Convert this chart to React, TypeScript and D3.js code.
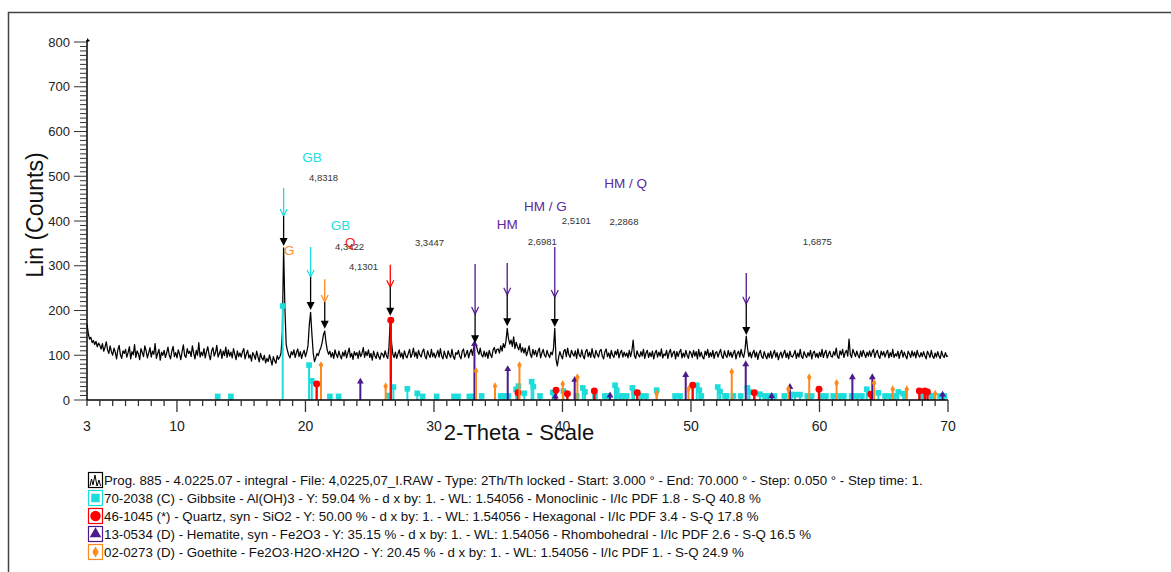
import React from 'react';
import * as d3 from 'd3';

const W = 1171;
const H = 572;

// scan: Start 3.000°, step 0.1°
const scanStart = 3;
const scanStep = 0.1;
const counts = [
  170, 148, 136, 140, 128, 133, 124, 131, 119, 127,
  122, 114, 126, 109, 118, 130, 112, 104, 121, 108,
  100, 116, 107, 92, 112, 122, 101, 93, 110, 104,
  113, 96, 106, 119, 92, 108, 101, 124, 95, 110,
  103, 90, 115, 106, 97, 121, 110, 94, 105, 117,
  96, 109, 102, 126, 93, 104, 113, 89, 107, 100,
  111, 95, 105, 118, 100, 92, 109, 120, 97, 106,
  94, 112, 103, 90, 108, 123, 99, 95, 115, 104,
  109, 97, 121, 105, 92, 111, 100, 128, 96, 107,
  99, 115, 94, 108, 119, 101, 90, 110, 117, 98,
  106, 122, 96, 104, 113, 93, 109, 99, 118, 95,
  112, 98, 107, 94, 115, 102, 90, 110, 97, 105,
  96, 108, 115, 92, 103, 111, 94, 101, 87, 106,
  100, 91, 109, 97, 85, 104, 94, 89, 100, 83,
  93, 86, 101, 90, 78, 97, 88, 82, 99, 91,
  96, 105, 150, 340, 205, 124, 110, 100, 94, 108,
  101, 112, 95, 106, 114, 97, 108, 93, 104, 111,
  97, 107, 122, 168, 196, 148, 106, 86, 94, 104,
  99, 110, 117, 129, 146, 154, 128, 111, 102, 109,
  96, 106, 93, 112, 101, 95, 109, 99, 92, 107,
  98, 111, 94, 105, 116, 96, 104, 91, 108, 100,
  106, 93, 110, 97, 104, 117, 95, 108, 99, 112,
  95, 104, 89, 109, 99, 93, 107, 97, 91, 105,
  103, 95, 110, 99, 93, 118, 182, 128, 102, 95,
  107, 93, 103, 112, 96, 105, 92, 110, 99, 94,
  104, 113, 95, 102, 116, 97, 107, 93, 111, 101,
  96, 108, 114, 98, 92, 110, 101, 95, 113, 97,
  105, 94, 102, 111, 96, 115, 98, 92, 109, 99,
  93, 110, 101, 95, 113, 97, 91, 106, 102, 111,
  98, 92, 109, 114, 96, 103, 111, 94, 106, 113,
  100, 118, 128, 122, 109, 102, 116, 101, 96, 109,
  97, 107, 93, 111, 101, 95, 112, 117, 104, 113,
  114, 105, 121, 109, 126, 117, 131, 160, 137, 125,
  134, 120, 141, 115, 129, 119, 112, 126, 107, 117,
  105, 116, 99, 109, 121, 102, 95, 113, 101, 111,
  97, 109, 116, 94, 105, 113, 100, 96, 111, 101,
  95, 107, 101, 115, 160, 90, 76, 96, 108, 99,
  92, 109, 113, 97, 116, 101, 95, 111, 103, 98,
  110, 93, 114, 101, 96, 112, 99, 92, 108, 113,
  97, 107, 95, 115, 100, 94, 111, 102, 96, 109,
  113, 98, 92, 108, 114, 97, 105, 93, 111, 100,
  95, 109, 101, 113, 94, 106, 111, 96, 107, 98,
  105, 94, 111, 97, 109, 134, 99, 93, 110, 101,
  96, 108, 98, 113, 93, 105, 111, 95, 106, 97,
  109, 92, 105, 111, 96, 107, 98, 114, 94, 103,
  99, 111, 93, 106, 113, 96, 105, 109, 92, 108,
  97, 107, 113, 94, 105, 96, 111, 100, 93, 109,
  105, 95, 111, 98, 108, 92, 113, 97, 107, 96,
  92, 109, 100, 113, 95, 106, 97, 111, 93, 105,
  108, 96, 105, 113, 98, 93, 110, 100, 95, 111,
  98, 107, 95, 105, 111, 92, 104, 109, 96, 113,
  101, 95, 111, 143, 116, 97, 107, 94, 105, 111,
  96, 107, 91, 104, 111, 97, 93, 108, 99, 92,
  105, 95, 109, 93, 103, 111, 96, 106, 90, 101,
  107, 94, 104, 111, 95, 105, 92, 109, 98, 96,
  102, 111, 93, 105, 96, 113, 97, 93, 108, 100,
  95, 106, 98, 111, 92, 105, 109, 96, 104, 94,
  107, 97, 113, 95, 105, 111, 94, 102, 109, 98,
  96, 108, 100, 116, 97, 93, 110, 101, 113, 95,
  106, 111, 98, 136, 101, 95, 113, 105, 97, 109,
  100, 94, 109, 97, 111, 103, 95, 107, 98, 110,
  97, 107, 113, 95, 105, 111, 98, 93, 109, 100,
  108, 96, 105, 111, 94, 106, 97, 113, 95, 103,
  98, 109, 93, 105, 111, 96, 107, 99, 92, 109,
  103, 95, 110, 98, 107, 94, 111, 100, 96, 106,
  97, 108, 99, 92, 109, 103, 95, 111, 98, 93,
  105, 96, 108, 98, 93, 109, 99, 95, 106, 97,
  99,
];

// stick patterns [2theta, counts]
const gibbsite = [
  [13.17, 8], [14.2, 8], [18.23, 210], [20.28, 78], [20.49, 43], [21.9, 8], [22.58, 8],
  [26.45, 10], [26.84, 29], [27.93, 25], [28.7, 15], [29.12, 8], [30.21, 8], [31.56, 8],
  [31.87, 8], [32.75, 8], [33.06, 8], [33.71, 9], [35.19, 9], [35.45, 9], [35.79, 9],
  [36.39, 24], [36.57, 31], [37.03, 15], [37.6, 41], [37.73, 30], [38.25, 9], [39.24, 17],
  [40.07, 20], [41.1, 9], [41.58, 27], [41.75, 18], [42.53, 9], [43.3, 9], [43.57, 9],
  [44.09, 33], [44.22, 22], [44.48, 9], [44.74, 9], [45.0, 9], [45.44, 27], [45.57, 18],
  [46.16, 9], [46.5, 9], [47.33, 22], [48.76, 9], [49.15, 9], [50.45, 33], [50.65, 22],
  [50.8, 9], [52.08, 29], [52.26, 19], [52.65, 9], [52.78, 9], [53.3, 9], [53.87, 9],
  [54.39, 27], [54.55, 18], [55.37, 13], [55.76, 9], [56.02, 9], [56.5, 9], [57.26, 9],
  [57.83, 12], [58.09, 12], [58.48, 12], [59.05, 9], [59.39, 9], [60.17, 9], [60.5, 9],
  [61.07, 9], [61.6, 9], [61.9, 9], [62.5, 9], [62.9, 9], [63.3, 9], [63.68, 24],
  [64.58, 16], [65.1, 9], [65.49, 9], [65.88, 9], [66.13, 18], [66.52, 14], [66.66, 14],
  [68.0, 9], [68.7, 9], [68.86, 9], [69.38, 9], [69.7, 9],
];
const quartz = [
  [20.87, 36], [26.64, 178], [36.54, 16], [39.5, 22], [40.38, 14], [42.48, 20], [45.82, 16],
  [50.13, 33], [54.93, 16], [59.96, 24], [63.99, 13], [67.77, 20], [68.2, 20], [68.4, 18],
];
const hematite = [
  [24.27, 41], [33.15, 125], [35.74, 69], [39.44, 8], [40.95, 45], [43.7, 10], [49.59, 56],
  [54.26, 80], [56.28, 9], [57.7, 29], [62.56, 51], [64.11, 51], [69.58, 12],
];
const goethite = [
  [21.21, 78], [26.24, 31], [33.27, 65], [34.75, 31], [36.65, 78], [40.02, 36], [41.16, 51],
  [47.33, 14], [49.8, 24], [53.17, 63], [57.58, 24], [59.2, 51], [61.33, 38], [64.25, 38],
  [65.7, 24], [66.79, 24], [69.0, 14],
];

// peak markers: position, phase colour key, arrow top / colour end / black tip (counts)
const peakTheta = [18.3, 20.4, 21.5, 26.6, 33.2, 35.7, 39.4, 54.3];
const peakPhase = ['GB', 'GB', 'G', 'Q', 'HM', 'HM', 'HM', 'HM'];
const peakTop = [474, 342, 270, 302, 304, 306, 342, 284];
const peakMid = [411, 275, 219, 252, 192, 235, 230, 215];
const peakTip = [344, 201, 159, 188, 127, 165, 163, 145];

const dLabels = ['4,8318', '4,3422', '4,1301', '3,3447', '2,6981', '2,5101', '2,2868', '1,6875'];
const dLabelTheta = [20.28, 22.3, 23.39, 28.52, 37.3, 39.94, 43.65, 58.7];
const dLabelCounts = [498, 342, 299, 353, 354, 402, 398, 355];

const phaseLabels = ['GB', 'GB', 'Q', 'G', 'HM', 'HM / G', 'HM / Q'];
const phaseLabelKey = ['GB', 'GB', 'Q', 'G', 'HM', 'HM', 'HM'];
const phaseLabelTheta = [19.75, 21.96, 23.08, 18.33, 34.88, 37.0, 43.25];
const phaseLabelCounts = [543, 391, 353, 335, 393, 434, 485];

const xTickLabels = [3, 10, 20, 30, 40, 50, 60, 70];
const yTickLabels = [0, 100, 200, 300, 400, 500, 600, 700, 800];

const legendLines = [
  'Prog. 885 - 4.0225.07 - integral - File: 4,0225,07_I.RAW - Type: 2Th/Th locked - Start: 3.000 ° - End: 70.000 ° - Step: 0.050 ° - Step time: 1.',
  '70-2038 (C) - Gibbsite - Al(OH)3 - Y: 59.04 % - d x by: 1. - WL: 1.54056 - Monoclinic - I/Ic PDF 1.8 - S-Q 40.8 %',
  '46-1045 (*) - Quartz, syn - SiO2 - Y: 50.00 % - d x by: 1. - WL: 1.54056 - Hexagonal - I/Ic PDF 3.4 - S-Q 17.8 %',
  '13-0534 (D) - Hematite, syn - Fe2O3 - Y: 35.15 % - d x by: 1. - WL: 1.54056 - Rhombohedral - I/Ic PDF 2.6 - S-Q 16.5 %',
  '02-0273 (D) - Goethite - Fe2O3·H2O·xH2O - Y: 20.45 % - d x by: 1. - WL: 1.54056 - I/Ic PDF 1. - S-Q 24.9 %',
];

const colors: Record<string, string> = {
  GB: '#1ddcdc',
  Q: '#ff0000',
  HM: '#4d1a8c',
  G: '#ff8a1c',
};
const labelColors: Record<string, string> = {
  GB: '#22dede',
  Q: '#ff1a1a',
  HM: '#5b2a9a',
  G: '#ff8c22',
};

const FONT = "'Liberation Sans', Arial, Helvetica, sans-serif";

const App: React.FC = () => {
  const x = d3.scaleLinear().domain([3, 70]).range([87, 948]);
  const y = d3.scaleLinear().domain([0, 800]).range([400, 42]);

  const scan = counts.map((c, i) => [scanStart + i * scanStep, c] as [number, number]);
  const line = d3.line<[number, number]>().x(d => x(d[0])).y(d => y(d[1]));

  const sym = (type: d3.SymbolType, size: number) => d3.symbol().type(type).size(size)() || '';

  const phases = [
    { key: 'GB', data: gibbsite, marker: sym(d3.symbolSquare, 32) },
    { key: 'Q', data: quartz, marker: sym(d3.symbolCircle, 38) },
    { key: 'HM', data: hematite, marker: sym(d3.symbolTriangle, 20) },
    { key: 'G', data: goethite, marker: sym(d3.symbolDiamond, 18) },
  ];

  const minorX = d3.range(3, 71);
  const minorY = d3.range(0, 801, 10);

  const legendY = [480, 498, 516, 534, 552];

  return (
    <svg width={W} height={H} style={{ position: 'absolute', left: 0, top: 0, background: '#fff' }} fontFamily={FONT}>
      {/* frame */}
      <path d={`M8.5,${H} L8.5,12.5 L${W},12.5`} fill="none" stroke="#444" strokeWidth={1.5} />

      {/* scan */}
      <path d={line(scan) || ''} fill="none" stroke="#000" strokeWidth={1.25} strokeLinejoin="round" />

      {/* stick patterns */}
      {phases.map(p => (
        <g key={p.key}>
          {p.data.map(([t, c], i) => (
            <g key={i}>
              <line x1={x(t)} x2={x(t)} y1={y(0)} y2={y(c)} stroke={colors[p.key]} strokeWidth={p.key === 'Q' ? 2.4 : 2} />
              <path d={p.marker} transform={`translate(${x(t)},${y(c)})`} fill={colors[p.key]} />
            </g>
          ))}
        </g>
      ))}

      {/* x axis */}
      <line x1={x(3)} x2={x(70)} y1={y(0)} y2={y(0)} stroke="#000" strokeWidth={1.5} />
      {minorX.map(t => {
        const major = t % 10 === 0;
        return <line key={t} x1={x(t)} x2={x(t)} y1={y(0)} y2={y(0) + (major ? 12 : 6)} stroke="#333" strokeWidth={1.3} />;
      })}
      {xTickLabels.map(t => (
        <text key={t} x={x(t)} y={431} textAnchor="middle" fontSize={14} fill="#222">{t}</text>
      ))}
      <text x={519} y={440} textAnchor="middle" fontSize={22} fill="#111">2-Theta - Scale</text>

      {/* y axis */}
      <line x1={x(3)} x2={x(3)} y1={y(0)} y2={y(800) - 2} stroke="#000" strokeWidth={1.5} />
      <path d={`M${x(3)},${y(800) - 4} l3,3 l-3,1 z`} fill="#000" />
      {minorY.map(v => {
        const major = v % 100 === 0;
        return <line key={v} x1={x(3) - (major ? 13 : 7)} x2={x(3)} y1={y(v)} y2={y(v)} stroke="#333" strokeWidth={1} />;
      })}
      {yTickLabels.map(v => (
        <text key={v} x={70} y={y(v) + 4.5} textAnchor="end" fontSize={13} fill="#222">{v}</text>
      ))}
      <text transform={`translate(43,215) rotate(-90)`} textAnchor="middle" fontSize={23} fill="#111">Lin (Counts)</text>

      {/* peak markers */}
      {peakTheta.map((t, i) => {
        const px = x(t);
        const c = colors[peakPhase[i]];
        const ym = y(peakMid[i]);
        const yt = y(peakTip[i]);
        return (
          <g key={i}>
            <line x1={px} x2={px} y1={y(peakTop[i])} y2={ym} stroke={c} strokeWidth={1.3} />
            <path d={`M${px - 3.5},${ym - 7} L${px},${ym} L${px + 3.5},${ym - 7}`} fill="none" stroke={c} strokeWidth={1.2} />
            <line x1={px} x2={px} y1={ym} y2={yt - 6} stroke="#000" strokeWidth={1.3} />
            <path d={`M${px - 4},${yt - 8} L${px + 4},${yt - 8} L${px},${yt} Z`} fill="#000" />
          </g>
        );
      })}

      {/* d-spacing labels */}
      {dLabels.map((s, i) => (
        <text key={s} x={x(dLabelTheta[i])} y={y(dLabelCounts[i]) + 3.5} fontSize={9.5} fill="#333">{s}</text>
      ))}

      {/* phase labels */}
      {phaseLabels.map((s, i) => (
        <text key={i} x={x(phaseLabelTheta[i])} y={y(phaseLabelCounts[i]) + 5} fontSize={13.5} fill={labelColors[phaseLabelKey[i]]}>{s}</text>
      ))}

      {/* legend */}
      {legendLines.map((s, i) => {
        const cy = legendY[i];
        const keys = ['SCAN', 'GB', 'Q', 'HM', 'G'];
        const k = keys[i];
        const border = k === 'SCAN' ? '#000' : colors[k];
        let icon: React.ReactNode = null;
        if (k === 'SCAN') {
          icon = <polyline points={`90,${cy + 6} 91.5,${cy - 1} 93,${cy + 5} 95,${cy - 5} 97,${cy + 6} 99,${cy} 100.5,${cy + 6}`} fill="none" stroke="#000" strokeWidth={1} />;
        } else {
          const m = phases.find(p => p.key === k)!;
          const scale = k === 'GB' ? 1.5 : k === 'Q' ? 1.5 : k === 'HM' ? 1.7 : 1.4;
          icon = <path d={m.marker} transform={`translate(95.5,${cy}) scale(${scale})`} fill={colors[k]} />;
        }
        return (
          <g key={i}>
            <rect x={88.5} y={cy - 7.5} width={14} height={15} fill="#fff" stroke={border} strokeWidth={1.2} />
            {icon}
            <text x={104} y={cy + 4.5} fontSize={13.3} fill="#111">{s}</text>
          </g>
        );
      })}
    </svg>
  );
};

export default App;
